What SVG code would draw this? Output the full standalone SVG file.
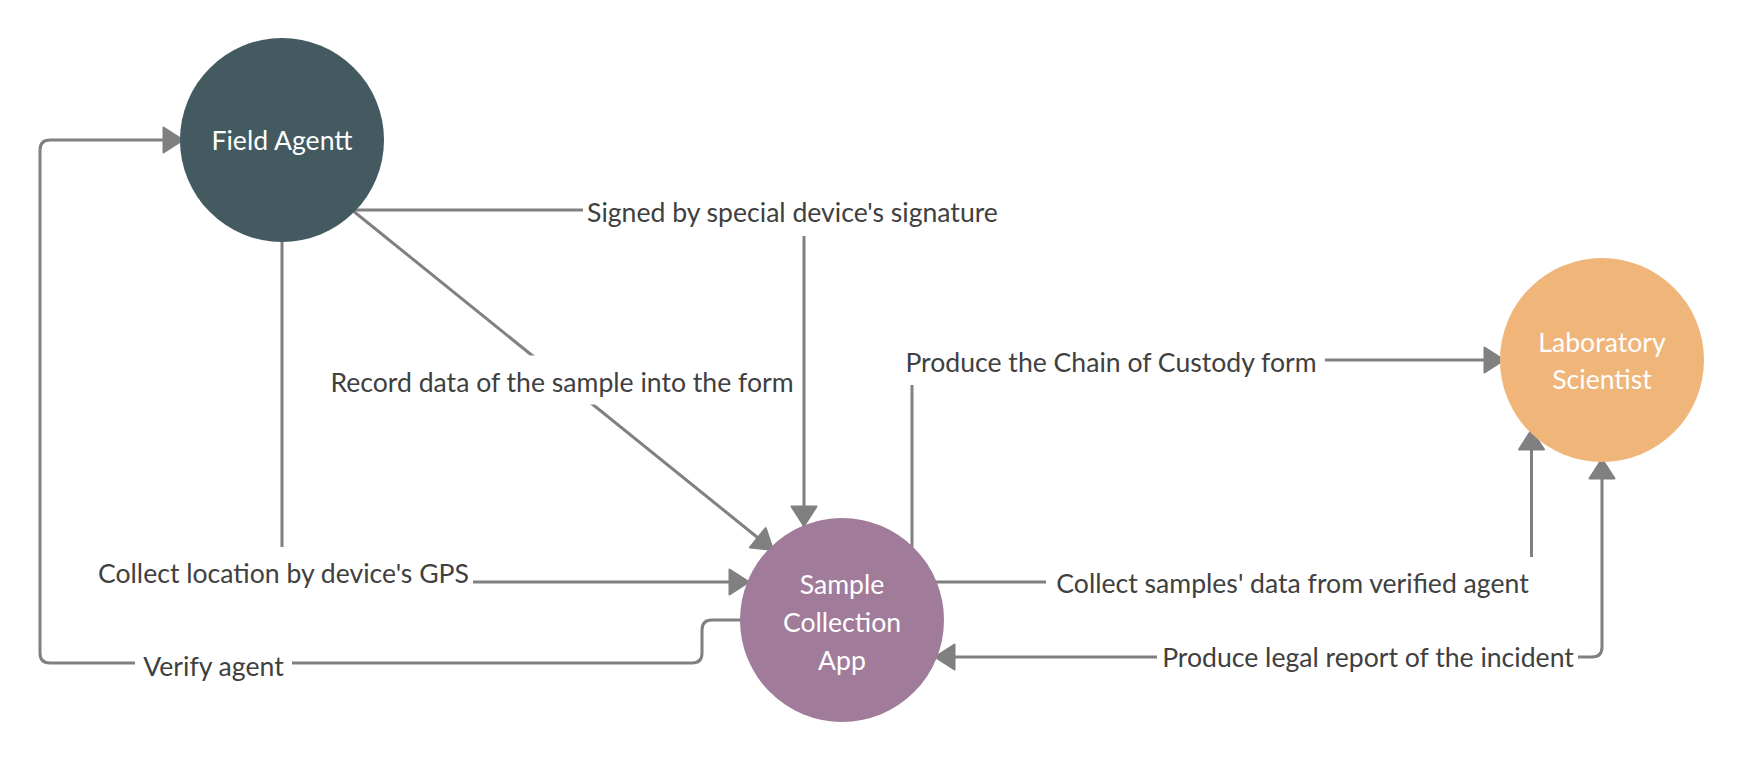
<svg xmlns="http://www.w3.org/2000/svg" width="1742" height="761" viewBox="0 0 1742 761">
<style>
.edge{fill:none;stroke:#808080;stroke-width:3;stroke-linejoin:round}
.lbl{font-family:Lato,"Liberation Sans",sans-serif;font-size:26.6px;fill:#404040;text-anchor:middle}
.bg{fill:#ffffff}
.ntext{font-family:Lato,"Liberation Sans",sans-serif;font-size:26.6px;fill:#ffffff;text-anchor:middle}
</style>
<defs>
<marker id="arr" markerUnits="userSpaceOnUse" viewBox="0 0 22 28" refX="21" refY="14" markerWidth="22" markerHeight="28" orient="auto-start-reverse">
<path d="M1.5,1.5 L21,14 L1.5,26.5 Z" fill="#808080" stroke="#808080" stroke-width="2" stroke-linejoin="round"/>
</marker>
</defs>
<rect width="1742" height="761" fill="#ffffff"/>
<g id="connectors">
<path class="edge" d="M743 620 H712 Q702 620 702 630 V653 Q702 663 692 663 H50 Q40 663 40 653 V150 Q40 140 50 140 H183" marker-end="url(#arr)"/>
<rect class="bg" x="135" y="640" width="157" height="50"/>
<text class="lbl" x="213.5" y="676">Verify agent</text>
<path class="edge" d="M282 242 V582 H749" marker-end="url(#arr)"/>
<rect class="bg" x="94" y="547" width="379" height="54"/>
<text class="lbl" x="283.5" y="583">Collect location by device's GPS</text>
<path class="edge" d="M352 210 H804 V526" marker-end="url(#arr)"/>
<rect class="bg" x="583" y="186" width="419" height="50"/>
<text class="lbl" x="792.5" y="222">Signed by special device's signature</text>
<path class="edge" d="M352 210 L773 550" marker-end="url(#arr)"/>
<rect class="bg" x="325" y="355.5" width="475" height="49"/>
<text class="lbl" x="562" y="392">Record data of the sample into the form</text>
<path class="edge" d="M912 547 V360 H1504" marker-end="url(#arr)"/>
<rect class="bg" x="898" y="337" width="427" height="48"/>
<text class="lbl" x="1111" y="372">Produce the Chain of Custody form</text>
<path class="edge" d="M935 582 H1531.5 V430" marker-end="url(#arr)"/>
<rect class="bg" x="1046" y="557" width="490" height="56"/>
<text class="lbl" x="1292.5" y="593">Collect samples' data from verified agent</text>
<path class="edge" d="M935 657 H1592 Q1602 657 1602 647 V459" marker-start="url(#arr)" marker-end="url(#arr)"/>
<rect class="bg" x="1157" y="633" width="421" height="50"/>
<text class="lbl" x="1368" y="667">Produce legal report of the incident</text>
</g>
<g id="field-agent">
<circle cx="282" cy="140" r="102" fill="#425a60"/>
<text class="ntext" x="282" y="150">Field Agentt</text>
</g>
<g id="sample-collection-app">
<circle cx="842" cy="620" r="102" fill="#a17c9a"/>
<text class="ntext" x="842" y="594">Sample</text>
<text class="ntext" x="842" y="632">Collection</text>
<text class="ntext" x="842" y="670">App</text>
</g>
<g id="laboratory-scientist">
<circle cx="1602" cy="360" r="102" fill="#f0b579"/>
<text class="ntext" x="1602" y="352">Laboratory</text>
<text class="ntext" x="1602" y="389">Scientist</text>
</g>
</svg>
